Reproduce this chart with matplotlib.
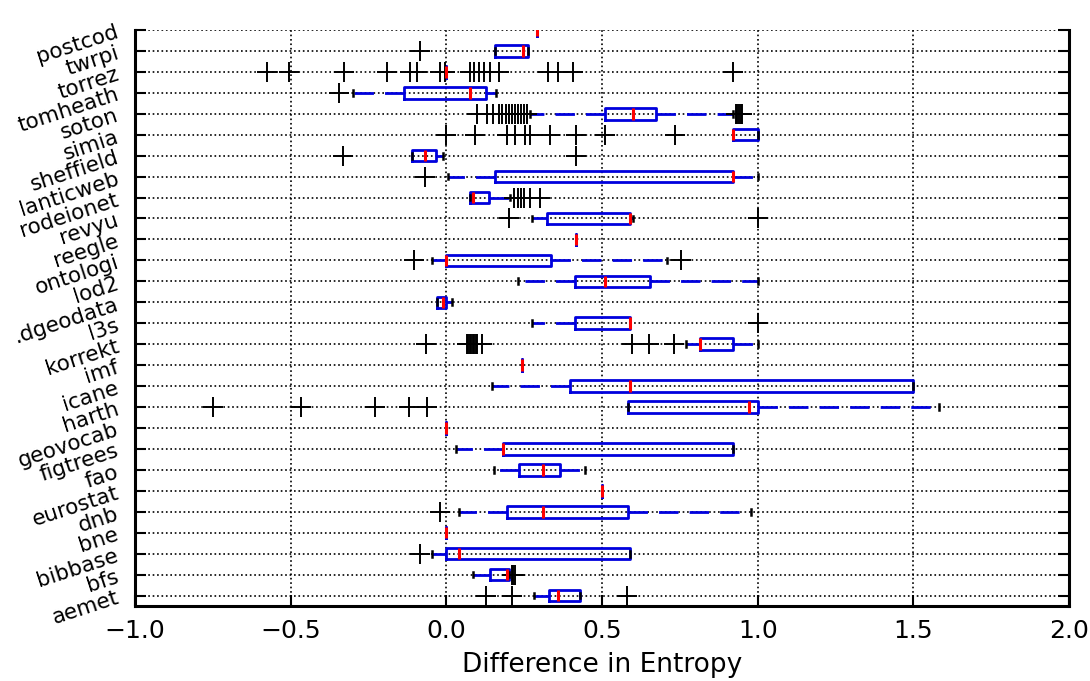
import matplotlib
matplotlib.use("Agg")
from matplotlib import pyplot as plt

# rows from bottom (aemet) to top (postcod)
labels = ["aemet", "bfs", "bibbase", "bne", "dnb", "eurostat", "fao", "figtrees",
          "geovocab", "harth", "icane", "imf", "korrekt", "l3s", ".dgeodata", "lod2",
          "ontologi", "reegle", "revyu", "rodeionet", "lanticweb", "sheffield", "simia",
          "soton", "tomheath", "torrez", "twrpi", "postcod"]

whislo = [0.28, 0.085, -0.045, 0.0, 0.04, 0.5, 0.154, 0.03,
          0.0, 0.582, 0.148, 0.242, 0.77, 0.276, -0.03, 0.23,
          -0.046, 0.416, 0.276, 0.075, 0.006, -0.109, 0.92,
          0.27, -0.30, 0.0, 0.156, 0.29]
q1 = [0.33, 0.14, 0.0, 0.0, 0.194, 0.5, 0.234, 0.183,
      0.0, 0.582, 0.398, 0.242, 0.815, 0.412, -0.03, 0.412,
      0.0, 0.416, 0.322, 0.075, 0.155, -0.109, 0.92,
      0.511, -0.135, 0.0, 0.156, 0.29]
med = [0.36, 0.195, 0.04, 0.0, 0.31, 0.5, 0.309, 0.183,
       0.0, 0.972, 0.59, 0.242, 0.815, 0.59, -0.01, 0.511,
       0.0, 0.416, 0.59, 0.086, 0.92, -0.069, 0.92,
       0.601, 0.075, 0.0, 0.247, 0.29]
q3 = [0.43, 0.20, 0.59, 0.0, 0.582, 0.5, 0.365, 0.921,
      0.0, 1.0, 1.5, 0.242, 0.921, 0.59, 0.0, 0.654,
      0.337, 0.416, 0.59, 0.138, 0.921, -0.034, 1.0,
      0.674, 0.127, 0.0, 0.262, 0.29]
whishi = [0.43, 0.20, 0.59, 0.0, 0.978, 0.5, 0.444, 0.921,
          0.0, 1.584, 1.5, 0.242, 1.0, 0.59, 0.017, 1.0,
          0.708, 0.416, 0.60, 0.206, 1.0, -0.011, 1.0,
          0.921, 0.161, 0.0, 0.262, 0.29]
fliers = [
    [0.127, 0.21, 0.58],                                   # aemet
    [0.21, 0.215, 0.22],                                   # bfs
    [-0.085],                                              # bibbase
    [],                                                    # bne
    [-0.02],                                               # dnb
    [],                                                    # eurostat
    [],                                                    # fao
    [],                                                    # figtrees
    [],                                                    # geovocab
    [-0.749, -0.466, -0.229, -0.12, -0.063],               # harth
    [],                                                    # icane
    [],                                                    # imf
    [-0.065, 0.065, 0.07, 0.075, 0.08, 0.085, 0.09, 0.095,
     0.1, 0.113, 0.596, 0.652, 0.73],                      # korrekt
    [1.0],                                                 # l3s
    [],                                                    # dgeodata
    [],                                                    # lod2
    [-0.103, 0.753],                                       # ontologi
    [],                                                    # reegle
    [0.201, 1.0],                                          # revyu
    [0.218, 0.23, 0.24, 0.25, 0.27, 0.30],                 # rodeionet
    [-0.069],                                              # semanticweb
    [-0.333, 0.416],                                       # sheffield
    [0.0, 0.092, 0.195, 0.22, 0.253, 0.27, 0.333, 0.416,
     0.511, 0.736],                                        # simia
    [0.10, 0.13, 0.15, 0.17, 0.18, 0.19, 0.20, 0.21, 0.22,
     0.23, 0.24, 0.25, 0.26, 0.93, 0.935, 0.94, 0.945, 0.95],  # soton
    [-0.345],                                              # tomheath
    [-0.576, -0.505, -0.328, -0.19, -0.118, -0.093, -0.02,
     -0.005, 0.075, 0.09, 0.105, 0.12, 0.14, 0.17, 0.327,
     0.36, 0.407, 0.92],                                   # torrez
    [-0.086],                                              # twrpi
    [],                                                    # postcod
]

xticks = [-1.0, -0.5, 0.0, 0.5, 1.0, 1.5, 2.0]

stats = []
for i in range(len(labels)):
    stats.append({"label": labels[i], "whislo": whislo[i], "q1": q1[i],
                  "med": med[i], "q3": q3[i], "whishi": whishi[i],
                  "fliers": fliers[i]})

fig = plt.figure(figsize=(10.9, 6.81), dpi=100)
ax = fig.add_axes([0.1239, 0.1101, 0.8568, 0.8459])

ax.bxp(stats, orientation="horizontal", widths=0.55,
       boxprops=dict(color="#0000dd", linewidth=2.0),
       medianprops=dict(color="red", linewidth=2.2),
       whiskerprops=dict(color="#0000dd", linestyle=(0, (7, 4)), linewidth=2.0),
       capprops=dict(color="black", linewidth=1.8),
       flierprops=dict(marker="+", markeredgecolor="black", markersize=14,
                       markeredgewidth=1.4, linestyle="none"))

ax.set_xlim(-1.0, 2.0)
ax.set_ylim(0.5, 28.0)
ax.set_xticks(xticks)
ax.grid(True, color="black", linestyle=":", linewidth=1.2)
ax.set_axisbelow(True)

plt.setp(ax.get_yticklabels(), rotation=18, fontsize=15.5)
plt.setp(ax.get_xticklabels(), fontsize=18)
ax.tick_params(direction="in", length=8, width=1.5, right=True, top=False)
ax.tick_params(axis="x", pad=9)
ax.tick_params(axis="y", pad=10)

ax.spines["top"].set_visible(False)
for s in ["left", "right", "bottom"]:
    ax.spines[s].set_linewidth(2.2)

ax.set_xlabel("Difference in Entropy", fontsize=19, labelpad=7)

plt.savefig("out.png", dpi=100)
